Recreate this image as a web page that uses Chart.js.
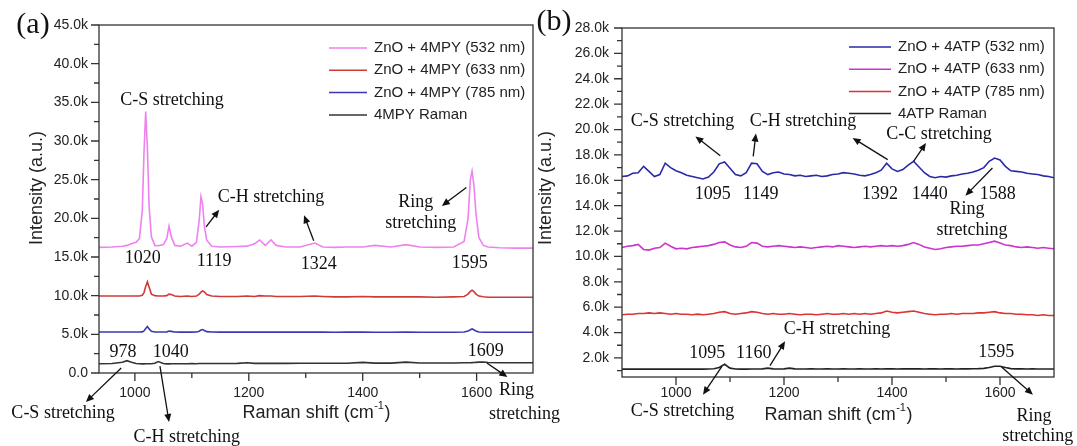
<!DOCTYPE html>
<html>
<head>
<meta charset="utf-8">
<script src="https://cdn.jsdelivr.net/npm/chart.js@4.4.1/dist/chart.umd.min.js"></script>
<style>
  html, body { margin: 0; padding: 0; background: #fff; }
  #wrap { position: relative; width: 1077px; height: 446px; overflow: hidden; }
  .panel { position: absolute; top: 0; height: 446px; }
  #panelA { left: 0; width: 600px; }
  #panelB { left: 520px; width: 557px; }
</style>
</head>
<body>
<div id="wrap">
  <div class="panel" id="panelA"><canvas id="chartA"></canvas></div>
  <div class="panel" id="panelB"><canvas id="chartB"></canvas></div>
</div>
<script>
// ---- data (intensities in thousands of counts) ----

// (a) ZnO + 4MPY
const shiftA = [937, 960, 978, 986, 994, 1002, 1008, 1013, 1016, 1019, 1022, 1025, 1029, 1035, 1041,
  1050, 1056, 1060, 1064, 1070, 1080, 1092, 1100, 1108, 1113, 1116, 1119, 1122, 1126, 1135,
  1150, 1180, 1197, 1210, 1219, 1229, 1239, 1248, 1265, 1290, 1316, 1330, 1350, 1373, 1400,
  1421, 1450, 1476, 1500, 1530, 1560, 1578, 1585, 1589, 1592, 1595, 1599, 1604, 1612, 1620,
  1640, 1670, 1699];
const mpy532 = [16.25, 16.3, 16.4, 16.5, 16.7, 16.9, 17.4, 21.0, 28.5, 33.8, 29.0, 21.5, 17.6, 16.5, 16.45,
  16.6, 17.4, 19.0, 17.6, 16.5, 16.4, 16.8, 16.4, 16.9, 19.8, 22.8, 21.8, 19.0, 17.2, 16.4,
  16.3, 16.35, 16.4, 16.7, 17.2, 16.5, 17.2, 16.5, 16.3, 16.3, 16.8, 16.3, 16.25, 16.3, 16.3,
  16.5, 16.3, 16.6, 16.3, 16.25, 16.3, 17.0, 20.0, 25.0, 26.1, 24.5, 20.5, 17.5, 16.5, 16.3,
  16.2, 16.15, 16.15];
const mpy633 = [9.95, 9.95, 9.95, 9.95, 9.95, 9.95, 9.95, 10.05, 10.4, 11.2, 11.8, 11.1, 10.2, 10.0, 9.95,
  9.95, 10.0, 10.2, 10.15, 9.95, 9.9, 9.95, 9.9, 9.95, 10.2, 10.45, 10.6, 10.5, 10.15, 9.95,
  9.9, 9.9, 9.95, 9.9, 10.0, 9.95, 9.95, 9.9, 9.9, 9.9, 9.95, 9.9, 9.85, 9.85, 9.9,
  9.85, 9.85, 9.85, 9.85, 9.8, 9.85, 9.9, 10.2, 10.55, 10.7, 10.55, 10.2, 9.95, 9.85, 9.8,
  9.8, 9.8, 9.8];
const mpy785 = [5.3, 5.3, 5.3, 5.3, 5.3, 5.3, 5.3, 5.32, 5.45, 5.75, 6.0, 5.7, 5.4, 5.3, 5.3,
  5.3, 5.32, 5.42, 5.38, 5.3, 5.28, 5.3, 5.28, 5.3, 5.4, 5.55, 5.62, 5.5, 5.35, 5.3,
  5.28, 5.28, 5.3, 5.28, 5.3, 5.28, 5.3, 5.28, 5.28, 5.28, 5.3, 5.28, 5.27, 5.28, 5.28,
  5.27, 5.27, 5.28, 5.27, 5.26, 5.27, 5.3, 5.42, 5.6, 5.7, 5.6, 5.42, 5.3, 5.27, 5.26,
  5.26, 5.26, 5.26];
const mpyRaman = [1.2, 1.22, 1.4, 1.6, 1.38, 1.22, 1.2, 1.18, 1.18, 1.2, 1.2, 1.2, 1.2, 1.25, 1.48,
  1.22, 1.18, 1.18, 1.2, 1.2, 1.2, 1.2, 1.22, 1.2, 1.22, 1.22, 1.22, 1.22, 1.22, 1.22,
  1.22, 1.24, 1.32, 1.24, 1.24, 1.24, 1.25, 1.25, 1.25, 1.26, 1.26, 1.27, 1.27, 1.27, 1.38,
  1.28, 1.28, 1.4, 1.3, 1.3, 1.3, 1.32, 1.33, 1.33, 1.34, 1.35, 1.38, 1.4, 1.42, 1.36,
  1.32, 1.32, 1.32];
const labelsA = ['ZnO + 4MPY (532 nm)', 'ZnO + 4MPY (633 nm)', 'ZnO + 4MPY (785 nm)', '4MPY Raman'];
const xTicksA = [1000, 1200, 1400, 1600];
const xMinorA = [1100, 1300, 1500];
const yTicksA = [0, 5, 10, 15, 20, 25, 30, 35, 40, 45];
const yMinorA = [2.5, 7.5, 12.5, 17.5, 22.5, 27.5, 32.5, 37.5, 42.5];

// (b) ZnO + 4ATP
const shiftB = [900, 910, 920, 930, 940, 950, 960, 970, 980, 990,
  1000, 1010, 1020, 1030, 1040, 1050, 1060, 1070, 1080, 1090,
  1100, 1110, 1120, 1130, 1140, 1150, 1160, 1170, 1180, 1190,
  1200, 1210, 1220, 1230, 1240, 1250, 1260, 1270, 1280, 1290,
  1300, 1310, 1320, 1330, 1340, 1350, 1360, 1370, 1380, 1390,
  1400, 1410, 1420, 1430, 1440, 1450, 1460, 1470, 1480, 1490,
  1500, 1510, 1520, 1530, 1540, 1550, 1560, 1570, 1580, 1590,
  1600, 1610, 1620, 1630, 1640, 1650, 1660, 1670, 1680, 1690, 1700];
const atp532 = [16.3, 16.35, 16.55, 16.6, 17.1, 16.7, 16.3, 16.45, 17.35, 17.0,
  16.75, 16.6, 16.4, 16.3, 16.2, 16.1, 16.25, 16.65, 17.3, 17.45,
  16.95, 16.45, 16.35, 16.6, 17.35, 17.3, 16.7, 16.45, 16.6, 16.65,
  16.5, 16.45, 16.35, 16.4, 16.3, 16.35, 16.4, 16.3, 16.35, 16.45,
  16.5, 16.6, 16.55, 16.5, 16.4, 16.35, 16.45, 16.6, 16.8, 17.35,
  16.9, 16.7, 16.85, 17.2, 17.5, 17.05, 16.6, 16.3, 16.2, 16.3,
  16.25, 16.35, 16.4, 16.5, 16.55, 16.65, 16.8, 17.0, 17.5, 17.75,
  17.6, 17.1, 16.75, 16.7, 16.65, 16.55, 16.5, 16.45, 16.35, 16.3, 16.2];
const atp633 = [10.7, 10.8, 10.85, 10.95, 10.55, 10.5, 10.65, 10.7, 11.05, 10.8,
  10.6, 10.65, 10.6, 10.7, 10.75, 10.8, 10.85, 10.95, 11.1, 11.15,
  10.9, 10.75, 10.7, 10.8, 11.1, 11.05, 10.8, 10.75, 10.8, 10.85,
  10.8, 10.75, 10.7, 10.75, 10.7, 10.65, 10.7, 10.75, 10.8, 10.75,
  10.85, 10.8, 10.75, 10.7, 10.75, 10.8, 10.75, 10.8, 10.85, 10.8,
  10.85, 10.8, 10.85, 10.95, 11.1, 10.95, 10.75, 10.65, 10.55, 10.6,
  10.7, 10.75, 10.8, 10.8, 10.85, 10.9, 10.9, 11.0, 11.1, 11.2,
  11.05, 10.9, 10.85, 10.75, 10.7, 10.75, 10.7, 10.65, 10.7, 10.65, 10.6];
const atp785 = [5.4, 5.45, 5.45, 5.5, 5.5, 5.55, 5.5, 5.55, 5.5, 5.45,
  5.5, 5.45, 5.45, 5.4, 5.45, 5.4, 5.45, 5.5, 5.6, 5.65,
  5.5, 5.45, 5.5, 5.55, 5.65, 5.6, 5.5, 5.45, 5.5, 5.45,
  5.45, 5.5, 5.45, 5.4, 5.45, 5.45, 5.4, 5.45, 5.5, 5.45,
  5.45, 5.5, 5.45, 5.5, 5.45, 5.5, 5.45, 5.5, 5.55, 5.7,
  5.6, 5.55, 5.6, 5.65, 5.7, 5.6, 5.5, 5.45, 5.4, 5.45,
  5.45, 5.5, 5.45, 5.5, 5.5, 5.5, 5.55, 5.55, 5.6, 5.65,
  5.55, 5.5, 5.5, 5.45, 5.45, 5.4, 5.4, 5.35, 5.4, 5.35, 5.35];
const atpRaman = [1.12, 1.12, 1.13, 1.12, 1.13, 1.12, 1.12, 1.13, 1.12, 1.12,
  1.12, 1.13, 1.12, 1.12, 1.13, 1.12, 1.13, 1.15, 1.25, 1.5,
  1.2, 1.13, 1.12, 1.12, 1.13, 1.13, 1.14, 1.2, 1.14, 1.13,
  1.14, 1.2, 1.14, 1.13, 1.13, 1.14, 1.13, 1.13, 1.14, 1.13,
  1.13, 1.14, 1.13, 1.13, 1.14, 1.13, 1.13, 1.14, 1.13, 1.14,
  1.14, 1.13, 1.14, 1.14, 1.15, 1.14, 1.13, 1.14, 1.14, 1.13,
  1.14, 1.14, 1.13, 1.14, 1.14, 1.15, 1.16, 1.18, 1.25, 1.35,
  1.35, 1.25, 1.16, 1.14, 1.14, 1.13, 1.14, 1.13, 1.13, 1.13, 1.13];
const labelsB = ['ZnO + 4ATP (532 nm)', 'ZnO + 4ATP (633 nm)', 'ZnO + 4ATP (785 nm)', '4ATP Raman'];
const xTicksB = [1000, 1200, 1400, 1600];
const xMinorB = [1100, 1300, 1500];
const yTicksB = [2, 4, 6, 8, 10, 12, 14, 16, 18, 20, 22, 24, 26, 28];
const yMinorB = [1, 3, 5, 7, 9, 11, 13, 15, 17, 19, 21, 23, 25, 27];

// ---- drawing ----
const SANS = '"Liberation Sans", Arial, sans-serif';
const SERIF = '"Liberation Serif", "Times New Roman", serif';
Chart.defaults.font.family = SANS;

function series(xs, ys, label, color) {
  return {
    label: label,
    data: xs.map((x, i) => ({ x: x, y: ys[i] })),
    borderColor: color,
    borderWidth: 1.6,
    pointRadius: 0,
    tension: 0,
    fill: false
  };
}

function kLabel(v) {
  return v === 0 ? '0.0' : v.toFixed(1) + 'k';
}

function arrow(ctx, x1, y1, x2, y2) {
  const ang = Math.atan2(y2 - y1, x2 - x1);
  const L = 8, W = 3.5;
  ctx.beginPath();
  ctx.moveTo(x1, y1);
  ctx.lineTo(x2 - Math.cos(ang) * L * 0.7, y2 - Math.sin(ang) * L * 0.7);
  ctx.stroke();
  ctx.beginPath();
  ctx.moveTo(x2, y2);
  ctx.lineTo(x2 - L * Math.cos(ang) + W * Math.sin(ang), y2 - L * Math.sin(ang) - W * Math.cos(ang));
  ctx.lineTo(x2 - L * Math.cos(ang) - W * Math.sin(ang), y2 - L * Math.sin(ang) + W * Math.cos(ang));
  ctx.closePath();
  ctx.fill();
}

// frame, minor/major ticks, notes, legend, titles
function panelDecor(p) {
  return {
    id: 'decor' + p.tag,
    afterDraw(chart) {
      const ctx = chart.ctx;
      const a = chart.chartArea;
      const xs = chart.scales.x, ys = chart.scales.y;
      ctx.save();

      ctx.strokeStyle = '#333';
      ctx.lineWidth = 1.3;
      ctx.strokeRect(a.left, a.top, a.right - a.left, a.bottom - a.top);
      ctx.beginPath();
      p.xMajor.forEach(v => { const x = xs.getPixelForValue(v); ctx.moveTo(x, a.bottom); ctx.lineTo(x, a.bottom + 8); });
      p.xMinor.forEach(v => { const x = xs.getPixelForValue(v); ctx.moveTo(x, a.bottom); ctx.lineTo(x, a.bottom + 5); });
      p.yMajor.forEach(v => { const y = ys.getPixelForValue(v); ctx.moveTo(a.left, y); ctx.lineTo(a.left - 8, y); });
      p.yMinor.forEach(v => { const y = ys.getPixelForValue(v); ctx.moveTo(a.left, y); ctx.lineTo(a.left - 5, y); });
      ctx.stroke();

      // annotations
      ctx.fillStyle = '#111';
      ctx.strokeStyle = '#111';
      ctx.lineWidth = 1.3;
      ctx.font = '18px ' + SERIF;
      ctx.textAlign = 'center';
      ctx.textBaseline = 'middle';
      p.notes.forEach(n => ctx.fillText(n[0], xs.getPixelForValue(n[1]), ys.getPixelForValue(n[2])));
      p.arrows.forEach(r => arrow(ctx, xs.getPixelForValue(r[0]), ys.getPixelForValue(r[1]),
        xs.getPixelForValue(r[2]), ys.getPixelForValue(r[3])));

      // legend
      ctx.font = '15px ' + SANS;
      ctx.textAlign = 'left';
      chart.data.datasets.forEach((ds, i) => {
        const y = p.legend.y + i * p.legend.step;
        ctx.strokeStyle = ds.borderColor;
        ctx.lineWidth = 1.5;
        ctx.beginPath();
        ctx.moveTo(p.legend.x, y);
        ctx.lineTo(p.legend.x + p.legend.len, y);
        ctx.stroke();
        ctx.fillStyle = '#222';
        ctx.fillText(ds.label, p.legend.x + p.legend.len + 7, y);
      });

      // axis titles
      ctx.fillStyle = '#222';
      ctx.font = '18px ' + SANS;
      ctx.textAlign = 'center';
      ctx.save();
      ctx.translate(p.yTitle[0], p.yTitle[1]);
      ctx.rotate(-Math.PI / 2);
      ctx.fillText('Intensity (a.u.)', 0, 0);
      ctx.restore();

      const t1 = 'Raman shift (cm', sup = '-1', t2 = ')';
      ctx.font = '18px ' + SANS;
      const w1 = ctx.measureText(t1).width, w3 = ctx.measureText(t2).width;
      ctx.font = '11px ' + SANS;
      const w2 = ctx.measureText(sup).width;
      let x0 = p.xTitle[0] - (w1 + w2 + w3) / 2;
      ctx.textAlign = 'left';
      ctx.font = '18px ' + SANS;
      ctx.fillText(t1, x0, p.xTitle[1]);
      ctx.font = '11px ' + SANS;
      ctx.fillText(sup, x0 + w1 + 0.5, p.xTitle[1] - 7);
      ctx.font = '18px ' + SANS;
      ctx.fillText(t2, x0 + w1 + w2 + 1, p.xTitle[1]);

      // panel letter
      ctx.font = '30px ' + SERIF;
      ctx.textAlign = 'center';
      ctx.fillStyle = '#111';
      ctx.fillText(p.letter, p.letterPos[0], p.letterPos[1]);

      ctx.restore();
    }
  };
}

function makePanel(canvasId, datasets, p) {
  return new Chart(document.getElementById(canvasId), {
    type: 'line',
    data: { datasets: datasets },
    options: {
      responsive: true,
      maintainAspectRatio: false,
      animation: false,
      layout: { padding: { top: p.padTop, right: p.padRight, left: 0, bottom: 0 } },
      plugins: { legend: { display: false }, tooltip: { enabled: false } },
      scales: {
        x: {
          type: 'linear',
          min: p.xMin,
          max: p.xMax,
          afterBuildTicks: s => { s.ticks = p.xMajor.map(v => ({ value: v })); },
          afterFit: s => { s.height = p.xAxisH; },
          grid: { display: false, drawTicks: false, tickLength: 0 },
          border: { display: false },
          ticks: { padding: p.xTickPad, color: '#222', font: { size: 14 }, callback: v => String(v) }
        },
        y: {
          type: 'linear',
          min: p.yMin,
          max: p.yMax,
          afterBuildTicks: s => { s.ticks = p.yMajor.map(v => ({ value: v })); },
          afterFit: s => { s.width = p.yAxisW; },
          grid: { display: false, drawTicks: false, tickLength: 0 },
          border: { display: false },
          ticks: { padding: p.yTickPad, color: '#222', font: { size: 14 }, callback: v => kLabel(v) }
        }
      }
    },
    plugins: [panelDecor(p)]
  });
}

makePanel('chartA', [
  series(shiftA, mpy532, labelsA[0], '#ee82ee'),
  series(shiftA, mpy633, labelsA[1], '#d03a3a'),
  series(shiftA, mpy785, labelsA[2], '#3a3ab0'),
  series(shiftA, mpyRaman, labelsA[3], '#333333')
], {
  tag: 'A', letter: '(a)', letterPos: [33, 25],
  xMin: 937, xMax: 1699, yMin: 0, yMax: 45,
  xMajor: xTicksA, xMinor: xMinorA, yMajor: yTicksA, yMinor: yMinorA,
  padTop: 25, padRight: 67, yAxisW: 99, xAxisH: 73, xTickPad: 12, yTickPad: 11,
  legend: { x: 329, y: 48, step: 22.3, len: 38 },
  yTitle: [37, 188], xTitle: [316, 413],
  notes: [
    ['C-S stretching', 1065, 35.3], ['C-H stretching', 1239, 22.76],
    ['Ring', 1493, 22.1], ['stretching', 1502, 19.4],
    ['1020', 1014, 14.87], ['1119', 1139, 14.48], ['1324', 1323, 14.1], ['1595', 1588, 14.22],
    ['978', 979, 2.72], ['1040', 1063, 2.72], ['1609', 1616, 2.85],
    ['C-S stretching', 874, -5.17], ['C-H stretching', 1091, -8.28],
    ['Ring', 1670, -2.2], ['stretching', 1684, -5.3]
  ],
  arrows: [
    [1125, 18.9, 1148, 21.1], [1314, 17.1, 1297, 20.4], [1582, 24.0, 1539, 21.6],
    [976, 0.65, 914, -3.75], [1044, 0.9, 1060, -6.34], [1618, 1.29, 1654, -0.52]
  ]
});

makePanel('chartB', [
  series(shiftB, atp532, labelsB[0], '#2a2aa8'),
  series(shiftB, atp633, labelsB[1], '#cc33cc'),
  series(shiftB, atp785, labelsB[2], '#dd3333'),
  series(shiftB, atpRaman, labelsB[3], '#222222')
], {
  tag: 'B', letter: '(b)', letterPos: [34, 22],
  xMin: 900, xMax: 1700, yMin: 0.5, yMax: 28,
  xMajor: xTicksB, xMinor: xMinorB, yMajor: yTicksB, yMinor: yMinorB,
  padTop: 28, padRight: 23, yAxisW: 102, xAxisH: 69, xTickPad: 8, yTickPad: 13,
  legend: { x: 329, y: 47, step: 22.2, len: 42 },
  yTitle: [26, 188], xTitle: [318, 415],
  notes: [
    ['C-S stretching', 1012, 20.64], ['C-H stretching', 1235, 20.64], ['C-C stretching', 1487, 19.6],
    ['1095', 1068, 14.87], ['1149', 1157, 14.87], ['1392', 1378, 14.87], ['1440', 1470, 14.87], ['1588', 1596, 14.87],
    ['Ring', 1539, 13.69], ['stretching', 1548, 12.03],
    ['1095', 1058, 2.34], ['1160', 1144, 2.34], ['1595', 1593, 2.42],
    ['C-H stretching', 1298, 4.23], ['C-S stretching', 1012, -2.2],
    ['Ring', 1663, -2.6], ['stretching', 1670, -4.18]
  ],
  arrows: [
    [1082, 17.94, 1036, 19.46], [1143, 17.89, 1148, 19.68], [1392, 17.63, 1327, 19.34],
    [1440, 17.49, 1463, 18.94], [1586, 16.97, 1536, 14.79],
    [1174, 1.39, 1202, 3.31], [1085, 1.34, 1050, -0.89], [1603, 1.29, 1661, -0.89]
  ]
});
</script>
</body>
</html>
